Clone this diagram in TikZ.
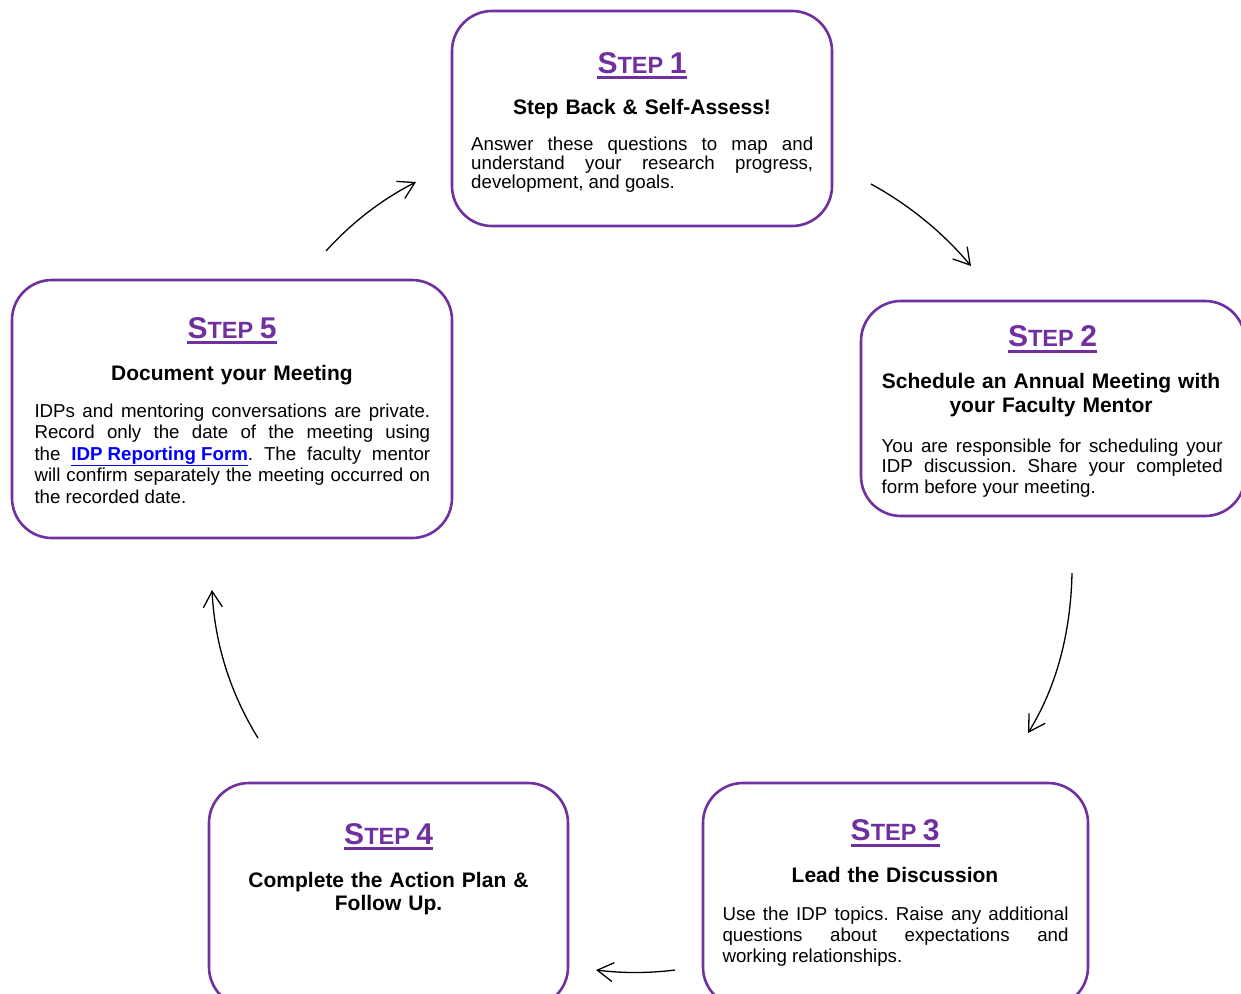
\documentclass[tikz,border=0pt]{standalone}
\usepackage{fontspec}
\setmainfont{Liberation Sans}
\usetikzlibrary{arrows.meta}
\definecolor{stepPurple}{HTML}{7030A0}
\definecolor{linkBlue}{HTML}{0000FF}
\tolerance=10000
\hyphenpenalty=10000
\exhyphenpenalty=10000
\frenchspacing
\newcommand\stepttl[1]{\fontsize{30}{30}\selectfont S\fontsize{23.5}{24}\selectfont TEP \fontsize{30}{30}\selectfont #1}
\begin{document}
\begin{tikzpicture}[x=1pt,y=-1pt,
  stepbox/.style={draw=stepPurple,line width=2.6pt,rounded corners=40pt,inner sep=0pt,fill=white},
  ttl/.style={inner sep=0pt,anchor=base,text=stepPurple,font=\bfseries},
  ttlline/.style={draw=stepPurple,line width=3pt},
  hdg/.style={inner sep=0pt,anchor=base,align=center,font=\bfseries\fontsize{21}{23.4}\selectfont},
  bodytext/.style={inner sep=0pt,anchor=base west,align=justify,font=\fontsize{18.7}{#1}\selectfont},
  flow/.style={line width=1.3pt,-{Straight Barb[length=16pt,width=19pt]}}]
\useasboundingbox (0,0) rectangle (1241,993);
\clip (0,0) rectangle (1241,993);

% Step 1
\node[stepbox,minimum width=380pt,minimum height=215pt] (b1) at (642,118.5) {};
\node[ttl] (t1) at (642,73) {\stepttl{1}};
\draw[ttlline] ([yshift=-4.5pt]t1.base west) -- ([yshift=-4.5pt]t1.base east);
\node[hdg,text width=360pt] (h1) at (642,114) {Step Back \& Self-Assess!};
\node[bodytext=19.4,text width=342pt] (d1) at (471,150) {Answer these questions to map and\linebreak understand your research progress,\linebreak development, and goals.};

% Step 2
\node[stepbox,minimum width=384pt,minimum height=215pt] (b2) at (1053,408.5) {};
\node[ttl] (t2) at (1052.5,346.5) {\stepttl{2}};
\draw[ttlline] ([yshift=-4.5pt]t2.base west) -- ([yshift=-4.5pt]t2.base east);
\node[hdg,text width=370pt] (h2) at (1051,388.7) {Schedule an Annual Meeting with\\ your Faculty Mentor};
\node[bodytext=20.7,text width=341pt] (d2) at (881.5,452) {You are responsible for scheduling your\linebreak IDP discussion. Share your completed\linebreak form before your meeting.};

% Step 3
\node[stepbox,minimum width=385pt,minimum height=224pt] (b3) at (895.5,895) {};
\node[ttl] (t3) at (895.2,840.7) {\stepttl{3}};
\draw[ttlline] ([yshift=-4.5pt]t3.base west) -- ([yshift=-4.5pt]t3.base east);
\node[hdg,text width=360pt] (h3) at (895,882.7) {Lead the Discussion};
\node[bodytext=21,text width=346pt] (d3) at (722.3,920.7) {Use the IDP topics. Raise any additional\linebreak questions about expectations and\linebreak working relationships.};

% Step 4
\node[stepbox,minimum width=359pt,minimum height=224pt] (b4) at (388.5,895) {};
\node[ttl] (t4) at (388.7,844) {\stepttl{4}};
\draw[ttlline] ([yshift=-4.5pt]t4.base west) -- ([yshift=-4.5pt]t4.base east);
\node[hdg,text width=330pt] (h4) at (388.5,887.3) {Complete the Action Plan \&\\ Follow Up.};

% Step 5
\node[stepbox,minimum width=440pt,minimum height=258pt] (b5) at (232,409) {};
\node[ttl] (t5) at (232,338.3) {\stepttl{5}};
\draw[ttlline] ([yshift=-4.5pt]t5.base west) -- ([yshift=-4.5pt]t5.base east);
\node[hdg,text width=400pt] (h5) at (232,380) {Document your Meeting};
\node[bodytext=21.5,text width=395.7pt] (d5) at (34.3,417.3) {IDPs and mentoring conversations are private.\linebreak Record only the date of the meeting using\linebreak the \textcolor{linkBlue}{\bfseries\underline{IDP Reporting Form}}. The faculty mentor\linebreak will confirm separately the meeting occurred on\linebreak the recorded date.};

% Arrows
\coordinate (a1s) at (326,251); \coordinate (a1e) at (416,182);
\coordinate (a2s) at (871,184); \coordinate (a2e) at (971,266);
\coordinate (a3s) at (1072,573); \coordinate (a3e) at (1028,733);
\coordinate (a4s) at (675,970); \coordinate (a4e) at (596,970);
\coordinate (a5s) at (258,738); \coordinate (a5e) at (212,590);
\draw[flow] (a1s) .. controls (352,222.3) and (382,199.3) .. (a1e);
\draw[flow] (a2s) .. controls (909.7,205.3) and (943,232.7) .. (a2e);
\draw[flow] (a3s) .. controls (1070.7,634.3) and (1056,687.7) .. (a3e);
\draw[flow] (a4s) .. controls (649,973.3) and (622.7,973.3) .. (a4e);
\draw[flow] (a5s) .. controls (230,692.7) and (214.7,643.3) .. (a5e);
\end{tikzpicture}
\end{document}
